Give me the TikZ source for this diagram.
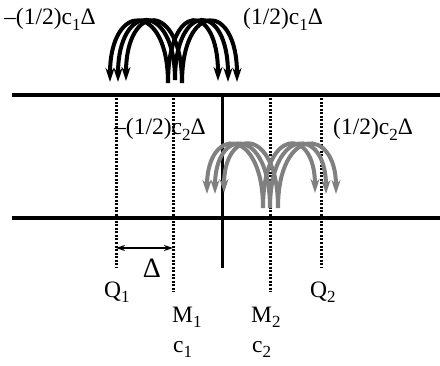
\documentclass[tikz,border=0pt]{standalone}
\usepackage{fontspec}
\setmainfont{Liberation Serif}
\usetikzlibrary{arrows.meta}
\newcommand{\lo}[1]{\raisebox{-0.5ex}{\fontsize{17}{17}\selectfont #1}}
\tikzset{
  rail/.style ={line width=3.5pt},
  wall/.style ={line width=3pt},
  dots/.style ={line width=3pt,dash pattern=on 2pt off 1.5pt},
  hop/.style  ={line width=4pt,-{Stealth[length=14pt,width=9pt]}},
  hopa/.style ={hop,black},
  hopb/.style ={hop,black!50},
  lbl/.style  ={font=\fontsize{23.5}{25}\selectfont,inner sep=0pt,anchor=base west},
}
\begin{document}
\begin{tikzpicture}[x=1pt,y=1pt]
  \useasboundingbox (0,0) rectangle (440,365);
  % rails
  \coordinate (tl) at (12,270);  \coordinate (tr) at (440,270);
  \coordinate (bl) at (12,147);  \coordinate (br) at (440,147);
  \draw[rail] (tl) -- (tr);
  \draw[rail] (bl) -- (br);
  % wall
  \coordinate (w0) at (222,270); \coordinate (w1) at (222,97);
  \draw[wall] (w0) -- (w1);
  % grid lines
  \coordinate (q1t) at (116,270); \coordinate (q1b) at (116,97);
  \coordinate (m1t) at (173,270); \coordinate (m1b) at (173,73);
  \coordinate (m2t) at (270,270); \coordinate (m2b) at (270,73);
  \coordinate (q2t) at (321,270); \coordinate (q2b) at (321,97);
  \draw[dots] (q1t) -- (q1b);
  \draw[dots] (m1t) -- (m1b);
  \draw[dots] (m2t) -- (m2b);
  \draw[dots] (q2t) -- (q2b);
  % spacing
  \coordinate (d1) at (116,117); \coordinate (d2) at (173,117);
  \draw[line width=1.3pt,{Stealth[length=9pt,width=6pt]}-{Stealth[length=9pt,width=6pt]}] (d1) -- (d2);
  \node[font=\fontsize{28}{29}\selectfont,inner sep=0pt,anchor=base] (dl) at (152,88) {Δ};
  % point labels
  \node[lbl] (q1) at (104,68) {Q\lo{1}};
  \node[lbl] (m1) at (172,43) {M\lo{1}};
  \node[lbl] (c1) at (173,13) {c\lo{1}};
  \node[lbl] (m2) at (251,43) {M\lo{2}};
  \node[lbl] (c2) at (252,13) {c\lo{2}};
  \node[lbl] (q2) at (310,68) {Q\lo{2}};
  % flux labels
  \node[lbl] (f1l) at (4,340)   {–(1/2)c\lo{1}Δ};
  \node[lbl] (f1r) at (243,340) {(1/2)c\lo{1}Δ};
  \node[lbl] (f2l) at (114,230) {–(1/2)c\lo{2}Δ};
  \node[lbl] (f2r) at (333,230) {(1/2)c\lo{2}Δ};
  % upper hops (c1)
  \draw[hopa] (168,282) .. controls (168,364) and (110,364) .. (110,283);
  \draw[hopa] (175,285) .. controls (175,364) and (118,364) .. (118,283);
  \draw[hopa] (182,282) .. controls (182,364) and (126,364) .. (126,284);
  \draw[hopa] (168,282) .. controls (168,364) and (218,364) .. (218,284);
  \draw[hopa] (175,285) .. controls (175,364) and (228,364) .. (228,283);
  \draw[hopa] (182,282) .. controls (182,364) and (237,364) .. (237,283);
  % lower hops (c2)
  \draw[hopb] (263,157) .. controls (263,239) and (207,239) .. (207,171);
  \draw[hopb] (270,157) .. controls (270,239) and (215,239) .. (215,171);
  \draw[hopb] (278,157) .. controls (278,239) and (224,239) .. (224,172);
  \draw[hopb] (263,157) .. controls (263,239) and (315,239) .. (315,172);
  \draw[hopb] (270,157) .. controls (270,239) and (326,239) .. (326,171);
  \draw[hopb] (278,157) .. controls (278,239) and (336,239) .. (336,171);
\end{tikzpicture}
\end{document}
